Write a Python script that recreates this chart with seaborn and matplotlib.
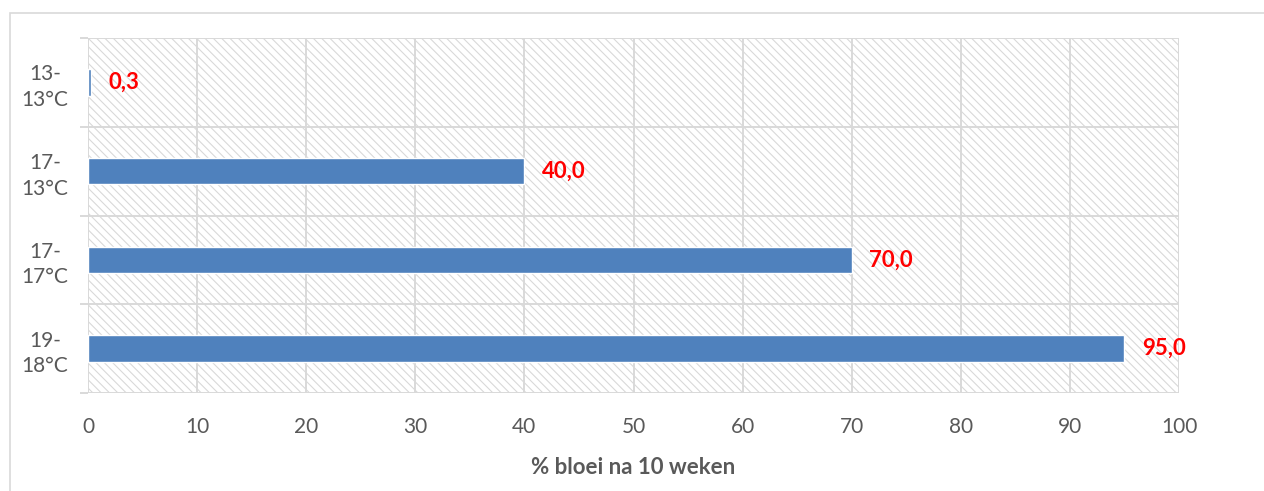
import matplotlib
matplotlib.use("Agg")
import matplotlib.pyplot as plt
from matplotlib.patches import Rectangle
import seaborn as sns
import pandas as pd
import numpy as np

# Data
categories = ["13-\n13°C", "17-\n13°C", "17-\n17°C", "19-\n18°C"]
bloei_pct = [0.3, 40.0, 70.0, 95.0]
x_ticks = [0, 10, 20, 30, 40, 50, 60, 70, 80, 90, 100]
x_label = "% bloei na 10 weken"

sns.set_theme(style="white")
plt.rcParams["font.family"] = ["Lato", "DejaVu Sans"]
plt.rcParams["hatch.linewidth"] = 0.8

text_grey = "#595959"
grid_grey = "#D9D9D9"
bar_blue = "#4F81BD"

df = pd.DataFrame({"categorie": categories, "bloei": bloei_pct})

fig = plt.figure(figsize=(12.64, 4.91), dpi=100)
ax = fig.add_axes([88 / 1264, 1 - 393 / 491, (1179 - 88) / 1264, (393 - 38) / 491])

# Outer chart frame
fig.patches.append(Rectangle((10 / 1264, -0.1), 1.2, 1 - 13 / 491 + 0.1,
                             transform=fig.transFigure, facecolor="none",
                             edgecolor=grid_grey, linewidth=1.2, zorder=0))

# Hatched plot area
ax.add_patch(Rectangle((0, 0), 1, 1, transform=ax.transAxes, facecolor="white",
                       edgecolor=grid_grey, hatch="\\" * 4, linewidth=0, zorder=0))

sns.barplot(data=df, y="categorie", x="bloei", orient="h", color=bar_blue,
            saturation=1, width=0.3, ax=ax, zorder=3)

ax.set_xlim(0, 100)
ax.set_ylim(3.5, -0.5)
ax.set_xticks(x_ticks)
ax.set_xticklabels([str(t) for t in x_ticks])

# Category separators as minor ticks with gridlines
ax.set_yticks(np.arange(-0.5, len(categories), 1.0), minor=True)
ax.grid(True, axis="y", which="minor", color=grid_grey, linewidth=1.4, zorder=1)
ax.grid(True, axis="x", which="major", color=grid_grey, linewidth=1.4, zorder=1)
ax.grid(False, axis="y", which="major")
ax.set_axisbelow(True)
ax.tick_params(axis="y", which="minor", length=6, width=1.4, color=grid_grey, direction="out", left=True)
ax.tick_params(axis="y", which="major", length=0, pad=31, labelsize=15, labelcolor=text_grey)
ax.tick_params(axis="x", which="major", length=0, pad=17, labelsize=15, labelcolor=text_grey)
for lbl in ax.get_yticklabels():
    lbl.set_horizontalalignment("center")
    lbl.set_multialignment("center")
    lbl.set_linespacing(1.35)

for s in ax.spines.values():
    s.set_visible(False)

ax.set_ylabel("")
ax.set_xlabel(x_label, fontsize=16, fontweight="bold", color=text_grey, labelpad=15)

# Value labels with decimal comma
for i, v in enumerate(bloei_pct):
    ax.annotate(f"{v:.1f}".replace(".", ","), xy=(v, i), xytext=(12.5, 0),
                textcoords="offset points", va="center", ha="left",
                fontsize=16, fontweight="bold", color="#FF0000", zorder=4)

fig.savefig("out.png", dpi=100)
